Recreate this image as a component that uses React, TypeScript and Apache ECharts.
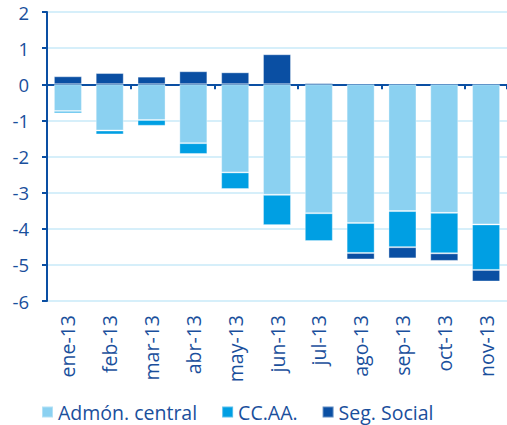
import React, { useEffect, useRef } from "react";
import * as echarts from "echarts";

const categories = ["ene-13", "feb-13", "mar-13", "abr-13", "may-13", "jun-13", "jul-13", "ago-13", "sep-13", "oct-13", "nov-13"];
const admonCentral = [-0.74, -1.28, -0.99, -1.63, -2.44, -3.06, -3.57, -3.84, -3.51, -3.56, -3.88];
const ccaa = [-0.06, -0.11, -0.16, -0.30, -0.46, -0.84, -0.77, -0.83, -1.0, -1.12, -1.26];
const segSocial = [0.22, 0.31, 0.21, 0.36, 0.33, 0.83, 0.04, -0.18, -0.31, -0.21, -0.32];
const seriesNames = ["Admón. central", "CC.AA.", "Seg. Social"];

const FONT = "'Open Sans', 'Noto Sans', sans-serif";
const DARK = "#0A4FA3";
const TEXT = "#1A4F9C";

export default function App() {
  const ref = useRef<HTMLDivElement>(null);
  useEffect(() => {
    if (!ref.current) return;
    const chart = echarts.init(ref.current, undefined, { renderer: "svg" });
    const mk = (name: string, data: number[], color: string) => ({
      name,
      type: "bar",
      stack: "total",
      xAxisIndex: 0,
      data,
      barWidth: "67%",
      itemStyle: { color, borderColor: "rgba(255,255,255,0.35)", borderWidth: 1 },
    });
    chart.setOption({
      animation: false,
      textStyle: { fontFamily: FONT },
      grid: { left: 47, right: 0, top: 12, bottom: 124, containLabel: false },
      legend: {
        left: 36,
        top: 396,
        itemWidth: 11,
        itemHeight: 11,
        itemGap: 24,
        icon: "rect",
        textStyle: { fontSize: 19.5, lineHeight: 22, color: TEXT, fontFamily: FONT },
        data: seriesNames,
      },
      xAxis: [
        {
          type: "category",
          data: categories,
          axisLine: { onZero: true, lineStyle: { color: DARK, width: 2 } },
          axisTick: { show: true, length: 5, lineStyle: { color: DARK, width: 2 } },
          axisLabel: { show: false },
        },
        {
          type: "category",
          data: categories,
          position: "bottom",
          axisLine: { show: false, onZero: false },
          axisTick: { show: false },
          axisLabel: { rotate: 90, fontSize: 19.5, color: TEXT, margin: 14, fontFamily: FONT },
        },
      ],
      yAxis: {
        type: "value",
        min: -6,
        max: 2,
        interval: 1,
        axisLine: { show: true, lineStyle: { color: DARK, width: 2 } },
        axisTick: { show: true, length: 5, lineStyle: { color: DARK, width: 2 } },
        axisLabel: { fontSize: 18.5, lineHeight: 16, color: TEXT, margin: 18, fontFamily: FONT },
        splitLine: { lineStyle: { color: "#C9EAF8", width: 1.5 } },
      },
      series: [
        mk(seriesNames[0], admonCentral, "#8BD1F1"),
        mk(seriesNames[1], ccaa, "#009FE3"),
        mk(seriesNames[2], segSocial, DARK),
      ],
    });
    return () => chart.dispose();
  }, []);
  return <div ref={ref} style={{ width: 507, height: 425, position: "absolute", left: 0, top: 0 }} />;
}
